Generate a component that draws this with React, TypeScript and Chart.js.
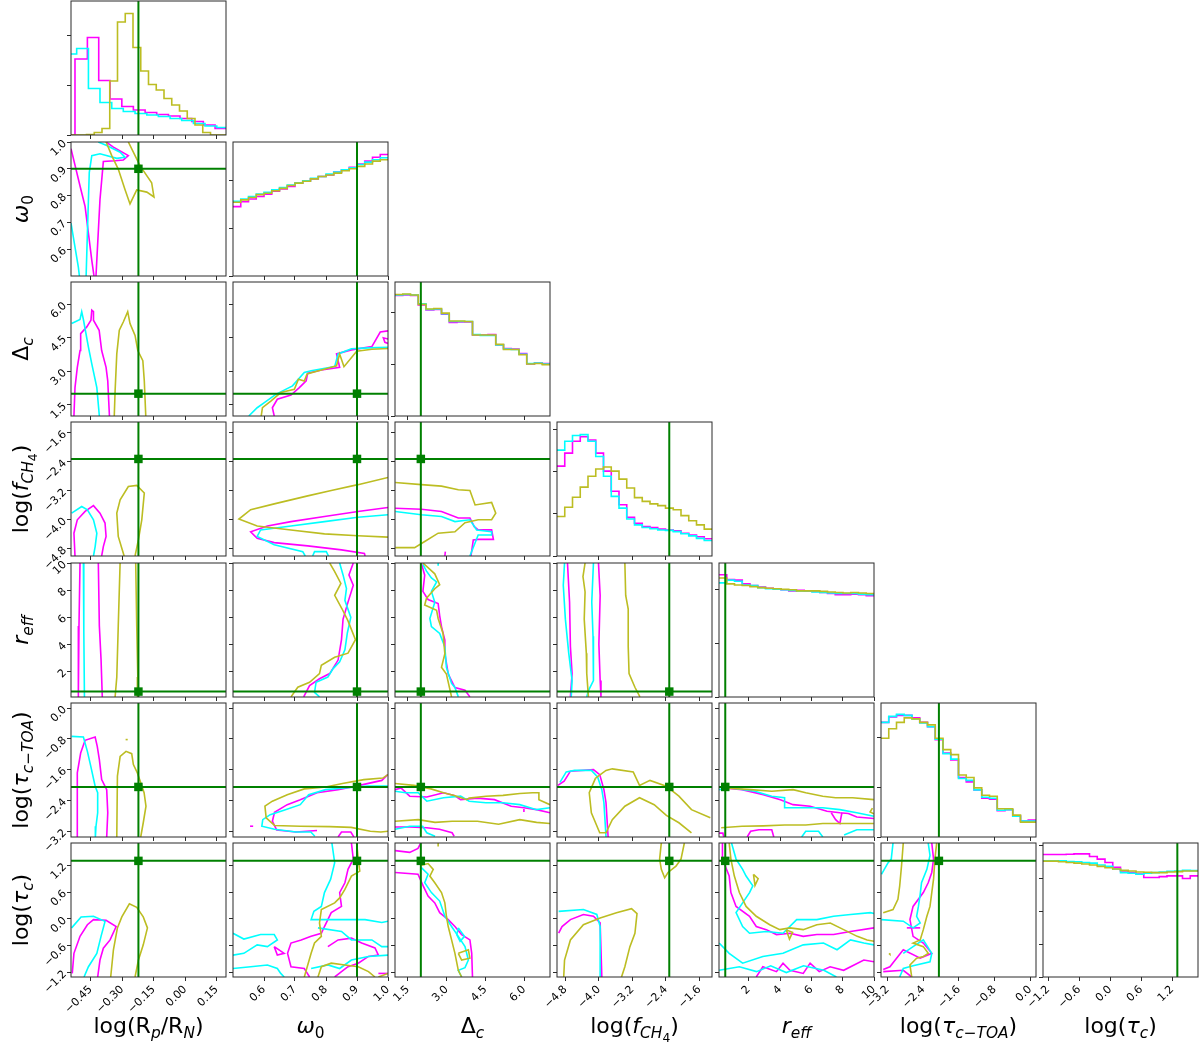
import React, { useEffect, useRef } from "react";
import { Chart, registerables } from "chart.js";

Chart.register(...registerables);

// ---------------- parameter metadata ----------------
const RANGES: number[][] = [
  [-0.544, 0.194],
  [0.5, 1.0],
  [1.0, 7.0],
  [-5.0, -1.3],
  [0.1, 10.0],
  [-3.35, 0.13],
  [-1.3, 1.7],
];
const TRUTH = [-0.223, 0.9, 2.0, -2.32, 0.5, -2.05, 1.3];
const TICKS: number[][] = [
  [-0.45, -0.3, -0.15, 0.0, 0.15],
  [0.6, 0.7, 0.8, 0.9, 1.0],
  [1.5, 3.0, 4.5, 6.0],
  [-4.8, -4.0, -3.2, -2.4, -1.6],
  [2, 4, 6, 8, 10],
  [-3.2, -2.4, -1.6, -0.8, 0.0],
  [-1.2, -0.6, 0.0, 0.6, 1.2],
];
const TICK_DEC = [2, 1, 1, 1, 0, 1, 1];

// ---------------- 1-D histograms (diagonal) ----------------
const HIST_YMAX = [2.68, 2.8, 2.58, 3.19, 2.5, 2.7, 4.07];
const HIST_YTICKS = [[0, 1, 2], [0, 1, 2], [0, 1, 2], [0, 1, 2, 3], [0, 1, 2], [0, 1, 2], [0, 1, 2, 3, 4]];

const H0_M_EDGES = [-0.544, -0.525, -0.466, -0.412, -0.358, -0.302, -0.247, -0.191, -0.136, -0.08, -0.025, 0.031, 0.086, 0.142, 0.194];
const H0_M = [0, 1.52, 1.95, 1.09, 0.72, 0.57, 0.5, 0.45, 0.41, 0.38, 0.33, 0.27, 0.2, 0.13];
const H0_C_EDGES = [-0.544, -0.517, -0.461, -0.406, -0.35, -0.295, -0.239, -0.183, -0.128, -0.072, -0.017, 0.039, 0.094, 0.15, 0.194];
const H0_C = [1.62, 1.73, 0.93, 0.65, 0.53, 0.47, 0.43, 0.4, 0.37, 0.33, 0.29, 0.23, 0.18, 0.15];
const H0_O = [0, 0, 0.01, 0.05, 0.13, 1.08, 2.26, 2.43, 1.75, 1.28, 1.01, 0.9, 0.73, 0.6, 0.48, 0.33, 0.2, 0.05, 0, 0];

const H1_M = [1.45, 1.55, 1.61, 1.66, 1.71, 1.77, 1.82, 1.87, 1.94, 1.99, 2.03, 2.08, 2.11, 2.17, 2.22, 2.27, 2.34, 2.4, 2.48, 2.54];
const H1_C = [1.56, 1.61, 1.66, 1.71, 1.75, 1.8, 1.85, 1.9, 1.95, 1.99, 2.04, 2.08, 2.13, 2.17, 2.22, 2.26, 2.33, 2.38, 2.43, 2.47];
const H1_O = [1.54, 1.59, 1.64, 1.7, 1.73, 1.78, 1.83, 1.89, 1.94, 1.98, 2.03, 2.08, 2.11, 2.15, 2.2, 2.24, 2.29, 2.34, 2.4, 2.43];

const H2_M = [2.32, 2.33, 2.32, 2.14, 2.04, 2.05, 1.96, 1.8, 1.81, 1.81, 1.56, 1.56, 1.57, 1.37, 1.3, 1.29, 1.2, 1.0, 1.02, 1.01];
const H2_C = [2.33, 2.34, 2.33, 2.16, 2.05, 2.06, 1.97, 1.82, 1.82, 1.82, 1.57, 1.55, 1.55, 1.37, 1.29, 1.28, 1.19, 1.01, 1.02, 1.0];
const H2_O = [2.34, 2.35, 2.33, 2.15, 2.06, 2.07, 1.98, 1.83, 1.83, 1.82, 1.56, 1.56, 1.56, 1.38, 1.28, 1.28, 1.18, 1.0, 1.01, 0.99];

const H3_M = [2.14, 2.45, 2.73, 2.84, 2.76, 2.45, 2.02, 1.54, 1.22, 0.92, 0.78, 0.7, 0.68, 0.64, 0.62, 0.6, 0.54, 0.5, 0.46, 0.41];
const H3_C = [2.52, 2.73, 2.87, 2.89, 2.73, 2.37, 1.9, 1.42, 1.14, 0.88, 0.74, 0.68, 0.65, 0.62, 0.61, 0.58, 0.53, 0.48, 0.42, 0.37];
const H3_O = [0.94, 1.16, 1.4, 1.64, 1.9, 2.07, 2.12, 2.02, 1.83, 1.62, 1.39, 1.3, 1.24, 1.2, 1.14, 1.1, 0.96, 0.84, 0.74, 0.64];

const H4_M = [2.28, 2.19, 2.18, 2.11, 2.08, 2.05, 2.03, 2.02, 2.0, 1.98, 1.99, 1.98, 1.97, 1.95, 1.93, 1.91, 1.91, 1.92, 1.91, 1.89];
const H4_C = [2.13, 2.18, 2.16, 2.09, 2.08, 2.04, 2.02, 2.01, 2.0, 1.99, 1.98, 1.98, 1.96, 1.95, 1.94, 1.93, 1.93, 1.93, 1.92, 1.91];
const H4_O = [2.22, 2.11, 2.09, 2.08, 2.06, 2.04, 2.03, 2.02, 2.01, 2.0, 1.98, 1.98, 1.98, 1.97, 1.96, 1.95, 1.94, 1.95, 1.94, 1.93];

const H5_M = [2.31, 2.42, 2.45, 2.45, 2.4, 2.31, 2.22, 1.96, 1.69, 1.55, 1.2, 1.11, 0.95, 0.78, 0.76, 0.53, 0.55, 0.42, 0.32, 0.34];
const H5_C = [2.31, 2.43, 2.47, 2.45, 2.38, 2.3, 2.22, 1.97, 1.68, 1.57, 1.18, 1.14, 0.95, 0.8, 0.78, 0.54, 0.55, 0.42, 0.32, 0.32];
const H5_O = [1.99, 2.18, 2.31, 2.4, 2.38, 2.31, 2.26, 1.99, 1.76, 1.66, 1.25, 1.2, 0.99, 0.84, 0.82, 0.57, 0.57, 0.44, 0.3, 0.3];

const H6_M = [3.72, 3.72, 3.72, 3.73, 3.74, 3.74, 3.66, 3.58, 3.48, 3.33, 3.22, 3.17, 3.13, 3.02, 3.02, 3.05, 3.07, 3.07, 2.99, 3.07];
const H6_C = [3.53, 3.53, 3.53, 3.51, 3.5, 3.48, 3.46, 3.4, 3.36, 3.28, 3.17, 3.15, 3.12, 3.15, 3.17, 3.19, 3.21, 3.22, 3.24, 3.23];
const H6_O = [3.52, 3.52, 3.5, 3.48, 3.46, 3.43, 3.4, 3.36, 3.32, 3.28, 3.24, 3.22, 3.19, 3.18, 3.17, 3.17, 3.19, 3.2, 3.22, 3.22];

// ---------------- 2-D contours (flat x,y lists in data units) ----------------
const K10 = {
  m: [[-0.544, 0.975, -0.501, 0.836, -0.477, 0.76, -0.461, 0.659, -0.445, 0.558, -0.434, 0.497],
      [-0.425, 0.5, -0.406, 0.785, -0.39, 0.927, -0.334, 0.93, -0.295, 0.933, -0.271, 0.949, -0.342, 0.981, -0.377, 1.0]],
  c: [[-0.544, 0.697, -0.509, 0.533, -0.504, 0.5],
      [-0.472, 0.5, -0.466, 0.659, -0.457, 0.886, -0.445, 0.949, -0.406, 0.956, -0.326, 0.939, -0.287, 0.943, -0.31, 0.962, -0.374, 0.987, -0.414, 1.0]],
  o: [[-0.271, 1.0, -0.215, 0.911, -0.16, 0.848, -0.149, 0.795, -0.183, 0.813, -0.231, 0.821, -0.263, 0.769, -0.287, 0.823, -0.319, 0.899, -0.35, 0.949, -0.377, 1.0]],
};
const K20 = {
  m: [[-0.53, 1.0, -0.525, 2.27, -0.514, 3.18, -0.501, 3.93, -0.498, 4.69, -0.469, 4.99, -0.449, 5.29, -0.445, 5.74, -0.437, 5.67, -0.437, 5.29, -0.41, 4.84, -0.398, 3.93, -0.377, 3.18, -0.369, 2.57, -0.361, 1.0]],
  c: [[-0.541, 5.14, -0.501, 5.32, -0.493, 5.67, -0.485, 5.32, -0.461, 4.08, -0.445, 3.33, -0.421, 2.27, -0.409, 1.0]],
  o: [[-0.338, 1.0, -0.334, 2.12, -0.326, 3.78, -0.314, 4.84, -0.295, 5.21, -0.274, 5.67, -0.263, 5.14, -0.239, 4.61, -0.226, 3.93, -0.202, 3.48, -0.195, 2.57, -0.188, 1.0]],
};
const K30 = {
  m: [[-0.525, -5.0, -0.53, -4.37, -0.514, -4.0, -0.477, -3.77, -0.437, -3.61, -0.406, -3.816, -0.382, -4.09, -0.377, -4.46, -0.39, -4.74, -0.398, -5.0]],
  c: [[-0.541, -3.816, -0.493, -3.633, -0.466, -3.725, -0.437, -4.0, -0.421, -4.37, -0.429, -4.74, -0.437, -5.0]],
  o: [[-0.291, -5.0, -0.319, -4.46, -0.326, -3.816, -0.31, -3.45, -0.271, -3.08, -0.231, -3.05, -0.195, -3.26, -0.207, -4.0, -0.223, -4.55, -0.239, -5.0]],
};
const K40 = {
  m: [[-0.501, 10.1, -0.506, 5.34, -0.509, 0.1], [-0.414, 10.1, -0.409, 5.34, -0.401, 2.9, -0.395, 0.1]],
  c: [[-0.485, 10.1, -0.483, 5.0, -0.48, 0.1]],
  o: [[-0.31, 10.1, -0.319, 5.34, -0.326, 1.57, -0.334, 0.1], [-0.236, 10.1, -0.231, 5.34, -0.226, 1.57, -0.228, 0.1]],
};
const K50 = {
  m: [[-0.514, -3.35, -0.514, -1.686, -0.498, -1.17, -0.477, -0.84, -0.429, -0.753, -0.419, -0.996, -0.409, -1.34, -0.398, -1.86, -0.374, -2.12, -0.369, -2.72, -0.374, -3.35]],
  c: [[-0.541, -0.737, -0.485, -0.753, -0.466, -1.126, -0.45, -1.51, -0.429, -2.03, -0.417, -2.2, -0.417, -2.72, -0.425, -3.07, -0.428, -3.35]],
  o: [[-0.326, -3.35, -0.323, -1.77, -0.31, -1.255, -0.282, -1.126, -0.255, -1.185, -0.247, -1.47, -0.228, -1.686, -0.196, -2.2, -0.187, -2.55, -0.2, -2.98, -0.212, -3.35],
      [-0.284, -0.82, -0.274, -0.82]],
};
const K60 = {
  m: [[-0.538, -1.22, -0.53, -0.77, -0.501, -0.39, -0.466, -0.13, -0.437, -0.015, -0.377, -0.03, -0.329, -0.17, -0.358, -0.47, -0.39, -0.655, -0.406, -0.92, -0.417, -1.3]],
  c: [[-0.541, -0.2, -0.496, 0.045, -0.437, 0.06, -0.382, -0.054, -0.401, -0.39, -0.421, -0.77, -0.461, -1.07, -0.482, -1.3]],
  o: [[-0.355, -1.3, -0.342, -0.69, -0.323, -0.2, -0.302, 0.045, -0.266, 0.34, -0.231, 0.26, -0.2, 0.045, -0.18, -0.2, -0.2, -0.58, -0.223, -0.92, -0.239, -1.3]],
};
const K21 = {
  m: [[0.633, 1.0, 0.627, 1.37, 0.643, 1.75, 0.687, 1.94, 0.714, 2.27, 0.736, 2.57, 0.741, 2.92, 0.785, 3.06, 0.844, 3.18, 0.834, 3.78, 0.882, 3.96, 0.948, 4.11, 0.975, 4.76, 1.0, 4.81],
      [1.0, 4.45, 0.985, 4.5, 0.99, 4.3, 1.0, 4.25]],
  c: [[0.551, 1.0, 0.578, 1.37, 0.6, 1.59, 0.638, 1.97, 0.692, 2.35, 0.73, 2.95, 0.752, 3.03, 0.828, 3.21, 0.839, 3.78, 0.882, 4.01, 0.936, 4.05, 1.0, 4.08]],
  o: [[0.591, 1.0, 0.595, 1.37, 0.622, 1.67, 0.654, 2.05, 0.698, 2.2, 0.711, 2.65, 0.73, 2.57, 0.739, 2.88, 0.785, 3.06, 0.834, 3.25, 0.844, 3.78, 0.858, 3.21, 0.899, 3.9, 0.948, 3.99, 1.0, 4.02]],
};
const K31 = {
  m: [[1.0, -3.66, 0.903, -3.77, 0.795, -3.91, 0.687, -4.05, 0.611, -4.17, 0.557, -4.33, 0.578, -4.51, 0.633, -4.63, 0.741, -4.72, 0.85, -4.83, 0.924, -4.93, 0.926, -5.0]],
  c: [[1.0, -3.86, 0.903, -3.93, 0.795, -4.05, 0.687, -4.17, 0.589, -4.28, 0.578, -4.46, 0.633, -4.69, 0.725, -4.88, 0.733, -5.0],
      [0.757, -5.0, 0.763, -4.88, 0.801, -4.88, 0.808, -5.0]],
  o: [[1.0, -2.83, 0.903, -3.03, 0.817, -3.19, 0.741, -3.34, 0.687, -3.45, 0.633, -3.56, 0.557, -3.72, 0.519, -3.98, 0.578, -4.17, 0.687, -4.28, 0.795, -4.39, 0.903, -4.44, 1.0, -4.48]],
};
const K41 = {
  m: [[0.888, 10.0, 0.874, 9.12, 0.888, 8.36, 0.871, 7.11, 0.855, 5.85, 0.85, 4.34, 0.839, 2.83, 0.812, 1.83, 0.779, 1.45, 0.747, 0.94, 0.728, 0.11]],
  c: [[0.844, 10.0, 0.855, 9.12, 0.866, 8.11, 0.861, 7.24, 0.88, 5.98, 0.869, 4.85, 0.861, 3.58, 0.844, 2.7, 0.823, 2.2, 0.806, 1.57, 0.768, 1.19, 0.763, 0.44, 0.779, 0.11]],
  o: [[0.812, 10.0, 0.828, 9.37, 0.848, 8.49, 0.828, 7.61, 0.852, 6.6, 0.871, 5.72, 0.895, 4.34, 0.871, 3.34, 0.828, 3.03, 0.785, 2.45, 0.779, 1.83, 0.747, 1.19, 0.709, 0.82, 0.687, 0.11]],
};
const K51 = {
  m: [[0.999, -1.73, 0.98, -1.88, 0.908, -2.01, 0.839, -2.12, 0.771, -2.2, 0.717, -2.38, 0.675, -2.51, 0.634, -2.71, 0.627, -2.94, 0.641, -3.17, 0.703, -3.22, 0.771, -3.18],
      [0.839, -3.35, 0.85, -3.22, 0.88, -3.22, 0.89, -3.35], [0.555, -3.07, 0.565, -3.07]],
  c: [[1.0, -2.03, 0.936, -2.03, 0.867, -2.07, 0.799, -2.12, 0.744, -2.25, 0.717, -2.51, 0.662, -2.66, 0.62, -2.77, 0.596, -2.9, 0.593, -3.07, 0.634, -3.15, 0.703, -3.22, 0.751, -3.22, 0.764, -3.33]],
  o: [[1.0, -1.73, 0.983, -1.82, 0.922, -1.86, 0.853, -1.96, 0.799, -2.05, 0.73, -2.1, 0.675, -2.25, 0.627, -2.42, 0.603, -2.55, 0.607, -2.85, 0.634, -3.05, 0.717, -3.07, 0.812, -3.08, 0.881, -3.1, 0.943, -3.2, 0.977, -3.22, 1.0, -3.2]],
};
const K61 = {
  m: [[0.882, 1.7, 0.888, 1.34, 0.871, 1.11, 0.861, 0.81, 0.844, 0.59, 0.85, 0.28, 0.817, 0.14, 0.795, -0.17, 0.785, -0.32, 0.752, -0.39, 0.72, -0.47, 0.687, -0.54, 0.676, -0.77, 0.687, -1.07, 0.73, -1.11, 0.747, -1.3],
      [0.806, -0.62, 0.839, -0.47, 0.882, -0.43, 0.915, -0.54, 0.958, -0.65, 0.969, -0.81, 0.937, -0.84, 0.904, -0.99, 0.871, -1.07, 0.85, -1.18, 0.828, -1.3],
      [0.633, -0.62, 0.665, -0.77, 0.643, -0.81, 0.633, -0.62], [0.969, -1.22, 1.0, -1.22]],
  c: [[0.819, 1.7, 0.828, 1.26, 0.815, 0.89, 0.795, 0.59, 0.785, 0.28, 0.761, 0.17, 0.752, -0.015, 0.828, -0.015, 0.926, -0.015, 0.98, -0.08, 1.0, -0.05],
      [0.5, -0.32, 0.535, -0.45, 0.589, -0.35, 0.633, -0.35, 0.643, -0.47, 0.611, -0.62, 0.578, -0.58, 0.535, -0.77, 0.5, -0.81],
      [0.5, -1.11, 0.557, -1.07, 0.611, -1.03, 0.643, -1.11, 0.654, -1.22, 0.665, -1.3],
      [0.774, -0.2, 0.85, -0.28, 0.882, -0.47, 0.948, -0.47, 0.98, -0.62, 1.0, -0.62],
      [0.752, -1.11, 0.806, -1.03, 0.844, -1.11, 0.882, -0.92, 0.937, -0.84, 1.0, -0.81]],
  o: [[0.899, 1.7, 0.904, 1.34, 0.909, 1.07, 0.882, 0.96, 0.861, 0.66, 0.844, 0.47, 0.828, 0.36, 0.785, 0.21, 0.779, -0.09, 0.785, -0.39, 0.763, -0.54, 0.752, -0.77, 0.73, -1.3],
      [0.774, -1.3, 0.785, -1.07, 0.817, -0.99, 0.861, -1.03, 0.904, -1.07, 0.937, -1.18, 0.958, -1.3], [0.969, -1.3, 1.0, -1.22]],
};
const K32 = {
  m: [[1.01, -3.68, 2.02, -3.71, 2.8, -3.77, 3.45, -3.95, 3.9, -3.95, 4.07, -4.19, 4.22, -4.28, 4.74, -4.28, 4.81, -4.54, 4.22, -4.54, 4.03, -4.56, 3.94, -5.0],
      [2.93, -5.0, 2.95, -4.88]],
  c: [[1.01, -3.77, 2.02, -3.86, 2.8, -3.91, 3.32, -4.05, 3.9, -4.0, 4.16, -4.28, 4.74, -4.33, 4.74, -4.42, 4.22, -4.42, 3.9, -5.0]],
  o: [[1.01, -2.97, 2.02, -3.03, 2.8, -3.07, 3.45, -3.17, 3.9, -3.19, 4.1, -3.59, 4.74, -3.52, 4.9, -3.82, 4.74, -4.0, 4.22, -4.0, 3.71, -4.08, 3.32, -4.33, 2.67, -4.37, 2.15, -4.6, 1.76, -4.77, 1.01, -4.77]],
};
const K42 = {
  m: [[2.02, 10.0, 2.15, 9.1, 2.08, 7.9, 2.28, 7.3, 2.67, 7.0, 2.73, 6.1, 2.8, 5.3, 2.93, 4.3, 2.93, 3.3, 3.06, 1.8, 3.32, 0.8, 3.71, 0.6, 3.9, 0.11]],
  c: [[2.08, 9.9, 2.22, 9.4, 2.41, 8.9, 2.61, 8.6, 2.41, 7.9, 2.54, 7.1, 2.35, 5.9, 2.41, 5.3, 2.73, 4.8, 2.93, 3.8, 2.99, 2.3, 3.19, 1.1, 3.32, 0.8, 3.45, 0.11],
      [2.67, 10.0, 2.67, 9.8]],
  o: [[2.08, 10.0, 2.54, 9.2, 2.73, 8.4, 2.54, 8.1, 2.22, 7.4, 2.15, 6.9, 2.61, 6.5, 2.67, 5.9, 2.86, 4.8, 2.93, 3.3, 2.8, 2.3, 2.99, 1.8, 3.19, 0.11]],
};
const K52 = {
  m: [[1.0, -2.12, 1.24, -2.08, 1.57, -2.29, 2.23, -2.31, 2.88, -2.2, 3.29, -2.27, 3.54, -2.38, 4.19, -2.34, 4.85, -2.38, 5.5, -2.55, 5.99, -2.59, 6.48, -2.64, 7.0, -2.72],
      [1.0, -3.09, 1.57, -3.09, 2.23, -3.11, 2.72, -3.15, 3.21, -3.24, 3.29, -3.33], [5.99, -2.62, 5.99, -2.7]],
  c: [[1.0, -2.16, 1.41, -2.2, 1.9, -2.2, 2.23, -2.42, 2.88, -2.33, 3.54, -2.29, 3.87, -2.42, 4.52, -2.46, 5.18, -2.46, 5.83, -2.51, 6.48, -2.64, 7.0, -2.59],
      [1.0, -3.15, 1.57, -3.07, 2.07, -3.07, 2.23, -3.24, 2.55, -3.33]],
  o: [[1.0, -1.96, 1.74, -2.01, 2.39, -2.1, 2.88, -2.2, 3.29, -2.27, 3.78, -2.38, 3.87, -2.34, 4.52, -2.29, 5.18, -2.27, 5.83, -2.22, 6.32, -2.2, 6.57, -2.2, 6.57, -2.38, 7.0, -2.51],
      [1.0, -2.94, 1.9, -2.9, 2.55, -2.97, 3.21, -2.94, 4.19, -2.94, 5.01, -3.02, 5.83, -2.9, 6.48, -2.97, 7.0, -3.0]],
};
const K62 = {
  m: [[1.01, 1.53, 1.57, 1.49, 1.89, 1.58, 2.0, 1.7],
      [1.01, 1.04, 1.89, 1.0, 2.09, 0.74, 2.28, 0.51, 2.54, 0.36, 2.73, 0.14, 3.06, -0.015, 3.32, -0.17, 3.58, -0.35, 3.9, -0.47, 3.97, -0.77, 4.0, -1.3]],
  c: [[2.02, 1.15, 2.28, 1.0, 2.15, 0.81, 2.41, 0.59, 2.73, 0.4, 2.93, 0.06, 3.19, -0.17, 3.45, -0.39, 3.71, -0.62, 3.84, -0.92, 3.71, -1.09, 3.45, -1.15, 3.58, -1.3],
      [3.45, -0.2, 3.69, -0.39, 3.52, -0.5, 3.39, -0.35, 3.45, -0.2]],
  o: [[2.02, 1.2, 2.28, 1.24, 2.48, 1.11, 2.35, 0.96, 2.54, 0.81, 2.8, 0.59, 2.93, 0.36, 2.99, 0.06, 3.06, -0.17, 3.19, -0.47, 3.32, -0.77, 3.45, -1.15, 3.58, -1.3],
      [2.67, 1.7, 2.67, 1.62], [3.45, -0.77, 3.84, -0.69, 3.9, -0.88, 3.58, -0.92, 3.45, -0.77]],
};
const K43 = {
  m: [[-4.75, 10, -4.7, 7.11, -4.68, 3.83, -4.64, 1.83, -4.68, 0.11], [-4.01, 10, -3.97, 7.6, -4.0, 4.0, -3.97, 1.32, -3.95, 0.11]],
  c: [[-4.82, 10, -4.85, 8.36, -4.8, 5.85, -4.72, 3.34, -4.64, 1.32, -4.66, 0.11], [-4.13, 10, -4.17, 7.11, -4.14, 4.59, -4.13, 1.32, -4.25, 0.57, -4.29, 0.11]],
  o: [[-4.33, 10, -4.38, 9.0, -4.33, 7.86, -4.35, 5.85, -4.3, 3.34, -4.29, 1.83, -4.25, 0.11], [-3.38, 10, -3.36, 7.6, -3.3, 6.6, -3.3, 3.83, -3.28, 1.83, -3.14, 0.82, -3.02, 0.11]],
};
const K53 = {
  m: [[-4.98, -2.01, -4.83, -1.9, -4.68, -1.64, -4.13, -1.6, -3.98, -1.73, -3.88, -2.12, -3.83, -2.46, -3.78, -3.35]],
  c: [[-4.93, -1.93, -4.78, -1.66, -4.58, -1.62, -4.18, -1.62, -4.03, -1.79, -3.93, -2.12, -3.88, -2.46, -3.83, -3.35]],
  o: [[-4.08, -1.82, -3.83, -1.62, -3.68, -1.58, -3.18, -1.66, -3.03, -2.01, -2.78, -1.88, -2.39, -2.03, -2.09, -2.29, -1.79, -2.64, -1.34, -2.85],
      [-4.08, -1.82, -4.23, -2.2, -4.18, -2.72, -3.98, -3.24, -3.83, -3.24, -3.68, -2.9, -3.38, -2.55, -3.03, -2.33, -2.68, -2.51, -2.39, -2.79, -2.09, -2.98, -1.79, -3.24]],
};
const K63 = {
  m: [[-4.96, -0.32, -4.88, -0.17, -4.68, -0.015, -4.37, 0.1, -4.13, 0.06, -3.97, -0.09, -3.93, -1.3]],
  c: [[-4.96, 0.17, -4.37, 0.21, -4.05, 0.1, -3.97, -0.17, -3.97, -1.3]],
  o: [[-4.84, -1.3, -4.82, -0.92, -4.68, -0.47, -4.37, -0.13, -3.97, 0.02, -3.58, 0.14, -3.22, 0.23, -3.09, 0.12, -3.14, -0.32, -3.26, -0.62, -3.38, -1.07, -3.46, -1.3],
      [-2.51, 1.7, -2.55, 1.34, -2.51, 1.11, -2.43, 0.92, -2.35, 1.04, -2.16, 1.18, -2.04, 1.34, -1.96, 1.7]],
};
const K54 = {
  m: [[0.24, -2.07, 1.57, -2.12, 2.93, -2.25, 4.02, -2.38, 4.83, -2.51, 5.92, -2.55, 7.0, -2.68, 7.82, -2.72, 8.36, -2.74, 8.9, -2.83, 9.99, -2.87],
      [7.27, -2.72, 7.55, -2.9, 7.82, -3.0, 7.95, -2.72], [1.9, -3.35, 2.12, -3.2, 2.65, -3.16, 3.47, -3.16, 3.6, -3.35], [0.1, -3.25, 0.35, -3.25, 0.4, -3.35]],
  c: [[0.1, -2.12, 0.75, -2.07, 2.39, -2.16, 3.47, -2.29, 4.29, -2.33, 4.29, -2.59, 5.64, -2.59, 6.73, -2.59, 7.82, -2.64, 8.9, -2.72, 9.99, -2.81],
      [5.38, -3.35, 5.64, -3.2, 6.46, -3.2, 6.73, -3.35], [8.09, -3.3, 8.9, -3.16, 9.99, -3.16]],
  o: [[0.24, -2.07, 2.12, -2.12, 3.47, -2.16, 4.83, -2.12, 5.64, -2.2, 6.73, -2.29, 7.55, -2.33, 8.63, -2.33, 9.99, -2.38],
      [0.24, -3.11, 1.57, -3.07, 2.93, -3.06, 4.29, -3.04, 5.64, -3.04, 6.73, -3.0, 8.09, -3.0, 9.99, -3.0], [9.9, -2.6, 9.75, -2.7, 9.99, -2.75]],
};
const K64 = {
  m: [[0.32, 1.7, 0.32, 1.34, 0.75, 0.96, 0.86, 0.59, 1.19, 0.28, 2.05, 0.06, 2.48, -0.17, 3.12, -0.24, 3.77, -0.35, 4.63, -0.32, 5.48, -0.39, 6.35, -0.35, 7.42, -0.35, 8.5, -0.28, 10.0, -0.2],
      [2.48, -1.3, 2.9, -1.07, 3.77, -1.18, 4.19, -0.99, 4.63, -1.15, 5.48, -1.22, 5.92, -0.99, 6.5, -1.18, 7.2, -1.07, 8.06, -1.15, 9.35, -0.92, 10.0, -0.96]],
  c: [[0.9, 1.7, 1.19, 1.34, 1.61, 1.11, 1.83, 0.96, 2.26, 0.74, 2.05, 0.59, 1.61, 0.36, 1.19, 0.14, 1.61, -0.17, 2.05, -0.32, 3.12, -0.28, 4.19, -0.32, 5.06, -0.015, 6.35, -0.015, 7.42, 0.06, 8.5, 0.1, 9.78, 0.14, 10.0, 0.12],
      [0.11, -0.54, 0.75, -0.77, 1.61, -0.99, 2.9, -0.84, 4.19, -0.77, 5.48, -0.58, 6.77, -0.54, 7.64, -0.69, 8.5, -0.47, 9.35, -0.54, 10.0, -0.58],
      [0.11, -1.15, 1.4, -1.07, 2.5, -1.18, 3.4, -1.05, 4.4, -1.2, 5.5, -1.05, 6.8, -1.15, 7.6, -1.3]],
  o: [[0.75, 1.7, 0.86, 1.34, 1.08, 0.96, 1.4, 0.59, 1.83, 0.28, 2.48, 0.06, 3.34, -0.13, 3.98, -0.24, 4.63, -0.2, 5.48, -0.24, 6.35, -0.13, 7.21, -0.09, 8.06, -0.24, 8.93, -0.39, 9.56, -0.47, 10.0, -0.5],
      [2.3, 1.0, 2.6, 0.9, 2.4, 0.75, 2.3, 1.0], [4.4, -0.25, 4.6, -0.45, 4.8, -0.3, 4.4, -0.25]],
};
const K65 = {
  m: [[-2.21, 1.7, -2.17, 1.34, -2.21, 1.04, -2.29, 0.81, -2.4, 0.59, -2.63, 0.28, -2.7, -0.015, -2.63, -0.39, -2.4, -0.54, -2.21, -0.77, -2.47, -0.88, -2.85, -0.69, -3.0, -0.88, -3.15, -1.07, -3.3, -1.13],
      [-3.3, -1.18, -2.85, -1.15, -2.66, -1.3], [-2.77, -0.2, -2.47, -0.2]],
  c: [[-3.08, 1.7, -3.12, 1.34, -3.19, 1.26, -3.34, 1.0],
      [-2.29, 1.7, -2.25, 1.42, -2.32, 1.11, -2.44, 0.81, -2.47, 0.55, -2.51, 0.28, -2.55, 0.06, -2.47, -0.09, -2.63, -0.2, -2.85, -0.05, -3.34, -0.015],
      [-2.85, -0.77, -2.63, -0.62, -2.4, -0.47, -2.21, -0.77, -2.25, -0.96, -2.63, -1.05, -2.85, -1.11, -2.93, -1.3]],
  o: [[-2.85, 1.7, -2.89, 1.18, -2.93, 0.74, -2.97, 0.44, -3.08, 0.21, -3.3, 0.14],
      [-2.1, 1.7, -2.14, 1.34, -2.17, 0.89, -2.21, 0.59, -2.25, 0.28, -2.32, 0.06, -2.4, -0.24, -2.47, -0.47, -2.63, -0.54, -2.4, -0.62, -2.29, -0.77, -2.4, -0.84, -2.55, -0.88, -2.7, -1.03, -2.66, -1.3],
      [-3.17, -0.77, -3.15, -0.79]],
};

// lookup tables built from the arrays above
const CONTOURS: Record<string, { m: number[][]; c: number[][]; o: number[][] }> = {
  "1-0": K10, "2-0": K20, "3-0": K30, "4-0": K40, "5-0": K50, "6-0": K60,
  "2-1": K21, "3-1": K31, "4-1": K41, "5-1": K51, "6-1": K61,
  "3-2": K32, "4-2": K42, "5-2": K52, "6-2": K62,
  "4-3": K43, "5-3": K53, "6-3": K63,
  "5-4": K54, "6-4": K64,
  "6-5": K65,
};
const HISTS = [
  { m: H0_M, c: H0_C, o: H0_O },
  { m: H1_M, c: H1_C, o: H1_O },
  { m: H2_M, c: H2_C, o: H2_O },
  { m: H3_M, c: H3_C, o: H3_O },
  { m: H4_M, c: H4_C, o: H4_O },
  { m: H5_M, c: H5_C, o: H5_O },
  { m: H6_M, c: H6_C, o: H6_O },
];

// ---------------- styling / layout ----------------
const MAGENTA = "#ff00ff";
const CYAN = "#00ffff";
const OLIVE = "#bcbd22";
const GREEN = "#008000";
const FRAME = "#2b2b2b";
const FONT = "'DejaVu Sans', Verdana, sans-serif";

const COL_LEFT = [71, 233, 395, 557, 719, 881, 1043];
const ROW_TOP = [1, 142, 282, 422, 563, 703, 843];
const PW = 155;
const PH = 134;
const ML = 60, MT = 14, MR = 14, MB = 60;

function fmt(v: number, dec: number) {
  const s = Math.abs(v).toFixed(dec);
  return (v < -1e-9 ? "\u2212" : "") + s;
}

function toXY(flat: number[]) {
  const out: { x: number; y: number }[] = [];
  for (let i = 0; i + 1 < flat.length; i += 2) out.push({ x: flat[i], y: flat[i + 1] });
  return out;
}

function uniformEdges(range: number[], n: number) {
  const e: number[] = [];
  for (let k = 0; k <= n; k++) e.push(range[0] + ((range[1] - range[0]) * k) / n);
  return e;
}

function histOutline(edges: number[], vals: number[]) {
  const pts: { x: number; y: number }[] = [];
  vals.forEach((v, i) => {
    pts.push({ x: edges[i], y: v });
    pts.push({ x: edges[i + 1], y: v });
  });
  return pts;
}

function lineDs(data: { x: number; y: number }[], color: string, width: number) {
  return {
    data,
    borderColor: color,
    backgroundColor: color,
    borderWidth: width,
    showLine: true,
    pointRadius: 0,
    pointHoverRadius: 0,
    fill: false,
    tension: 0,
  };
}

function axisOpts(range: number[], ticks: number[], show: boolean, dec: number, isX: boolean) {
  return {
    type: "linear",
    min: range[0],
    max: range[1],
    afterBuildTicks: (s: any) => {
      s.ticks = ticks.map((v) => ({ value: v }));
    },
    afterFit: (s: any) => {
      if (isX) s.height = MB;
      else s.width = ML;
    },
    ticks: {
      display: show,
      autoSkip: false,
      minRotation: 45,
      maxRotation: 45,
      padding: 2,
      color: "#000",
      font: { family: FONT, size: 11 },
      callback: (v: any) => fmt(Number(v), dec),
    },
    grid: {
      display: true,
      drawOnChartArea: false,
      drawTicks: true,
      tickLength: 4,
      color: FRAME,
      lineWidth: 1,
    },
    border: { display: false },
  };
}

const framePlugin = {
  id: "panelFrame",
  afterDatasetsDraw(chart: any) {
    const { ctx, chartArea: a } = chart;
    ctx.save();
    ctx.strokeStyle = FRAME;
    ctx.lineWidth = 1;
    ctx.strokeRect(a.left, a.top, a.right - a.left, a.bottom - a.top);
    ctx.restore();
  },
};

function makeConfig(row: number, col: number) {
  const diag = row === col;
  const xr = RANGES[col];
  const yr = diag ? [0, HIST_YMAX[col]] : RANGES[row];
  const ds: any[] = [];

  // truth markers (drawn on top: first datasets)
  if (!diag) {
    ds.push({
      data: [{ x: TRUTH[col], y: TRUTH[row] }],
      pointStyle: "rect",
      pointRadius: 6,
      pointHoverRadius: 6,
      backgroundColor: GREEN,
      borderColor: GREEN,
      borderWidth: 0,
      showLine: false,
    });
  }
  ds.push(lineDs([{ x: TRUTH[col], y: yr[0] }, { x: TRUTH[col], y: yr[1] }], GREEN, 2));
  if (!diag) ds.push(lineDs([{ x: xr[0], y: TRUTH[row] }, { x: xr[1], y: TRUTH[row] }], GREEN, 2));

  const colors: Record<string, string> = { o: OLIVE, c: CYAN, m: MAGENTA };
  if (diag) {
    const h = HISTS[col];
    const uni = uniformEdges(xr, 20);
    const edgesFor = (k: string) => {
      if (col === 0 && k === "m") return H0_M_EDGES;
      if (col === 0 && k === "c") return H0_C_EDGES;
      return uni;
    };
    (["o", "c", "m"] as const).forEach((k) => {
      ds.push(lineDs(histOutline(edgesFor(k), (h as any)[k]), colors[k], 1.6));
    });
  } else {
    const k2 = CONTOURS[`${row}-${col}`];
    (["o", "c", "m"] as const).forEach((k) => {
      (k2 as any)[k].forEach((poly: number[]) => ds.push(lineDs(toXY(poly), colors[k], 1.6)));
    });
  }

  const showX = row === 6;
  const showY = col === 0 && row > 0;
  const yTicks = diag ? HIST_YTICKS[col] : TICKS[row];

  return {
    type: "scatter",
    data: { datasets: ds },
    options: {
      responsive: false,
      maintainAspectRatio: false,
      animation: false,
      events: [],
      layout: { padding: { left: 0, top: MT, right: MR, bottom: 0 } },
      plugins: { legend: { display: false }, tooltip: { enabled: false } },
      scales: {
        x: axisOpts(xr, TICKS[col], showX, TICK_DEC[col], true),
        y: axisOpts(yr, yTicks, showY, diag ? 0 : TICK_DEC[row], false),
      },
    },
    plugins: [framePlugin],
  };
}

function Panel({ row, col }: { row: number; col: number }) {
  const ref = useRef<HTMLCanvasElement>(null);
  useEffect(() => {
    if (!ref.current) return;
    const chart = new Chart(ref.current, makeConfig(row, col) as any);
    return () => chart.destroy();
  }, [row, col]);
  const W = PW + ML + MR;
  const H = PH + MT + MB;
  return (
    <canvas
      ref={ref}
      width={W}
      height={H}
      style={{ position: "absolute", left: COL_LEFT[col] - ML, top: ROW_TOP[row] - MT, width: W, height: H }}
    />
  );
}

const subStyle = (italic: boolean): React.CSSProperties => ({
  fontSize: "0.7em",
  verticalAlign: "-0.32em",
  lineHeight: 0,
  fontStyle: italic ? "italic" : "normal",
});

const AXIS_LABELS: React.ReactNode[] = [
  <>log(R<span style={subStyle(true)}>p</span>/R<span style={subStyle(true)}>N</span>)</>,
  <><i>ω</i><span style={subStyle(false)}>0</span></>,
  <>Δ<span style={subStyle(true)}>c</span></>,
  <>log(<i>f</i><span style={subStyle(true)}>CH<span style={{ fontSize: "0.8em", verticalAlign: "-0.3em", fontStyle: "normal" }}>4</span></span>)</>,
  <><i>r</i><span style={subStyle(true)}>eff</span></>,
  <>log(<i>τ</i><span style={subStyle(false)}><i>c</i>−<i>TOA</i></span>)</>,
  <>log(<i>τ</i><span style={subStyle(true)}>c</span>)</>,
];

export default function App() {
  const panels: React.ReactNode[] = [];
  for (let r = 0; r < 7; r++) {
    for (let c = 0; c <= r; c++) panels.push(<Panel key={`${r}-${c}`} row={r} col={c} />);
  }
  const titleBase: React.CSSProperties = {
    position: "absolute",
    fontFamily: FONT,
    fontSize: 22,
    color: "#000",
    textAlign: "center",
    whiteSpace: "nowrap",
    lineHeight: "30px",
    height: 30,
  };
  return (
    <div style={{ position: "absolute", left: 0, top: 0, width: 1200, height: 1044, background: "#fff", overflow: "hidden" }}>
      {panels}
      {AXIS_LABELS.map((lab, c) => (
        <div key={`xl${c}`} style={{ ...titleBase, left: COL_LEFT[c] + PW / 2 - 100, top: 1011, width: 200 }}>
          {lab}
        </div>
      ))}
      {AXIS_LABELS.map((lab, r) =>
        r === 0 ? null : (
          <div
            key={`yl${r}`}
            style={{
              ...titleBase,
              left: 21 - 100,
              top: ROW_TOP[r] + PH / 2 - 15,
              width: 200,
              transform: "rotate(-90deg)",
              transformOrigin: "50% 50%",
            }}
          >
            {lab}
          </div>
        )
      )}
    </div>
  );
}
